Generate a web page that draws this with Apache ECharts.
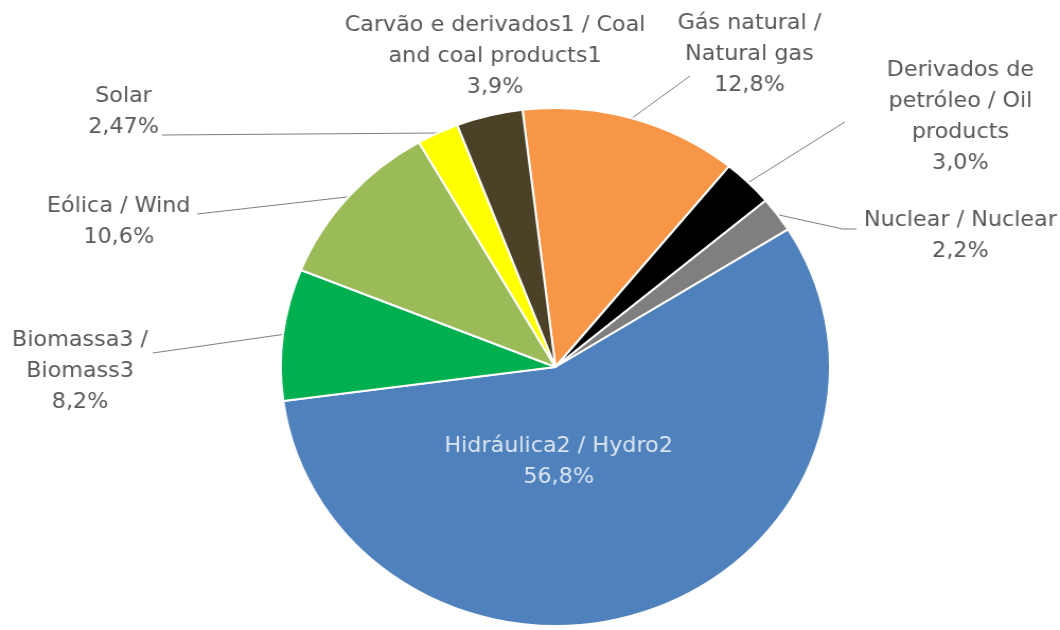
<!DOCTYPE html>
<html><head><meta charset="utf-8">
<script src="https://cdn.jsdelivr.net/npm/echarts@6/dist/echarts.min.js"></script>
<style>
html,body{margin:0;padding:0;background:#fff;overflow:hidden;width:1060px;height:630px}
#chart{width:1000px;height:630px;transform:scaleX(1.06);transform-origin:0 0}
</style></head><body><div id="chart"></div>
<script>
// Data (clockwise order as drawn, starting just left of 12 o'clock)
const categories = [
  'Gás natural /\nNatural gas',
  'Derivados de\npetróleo / Oil\nproducts',
  'Nuclear / Nuclear',
  'Hidráulica2 / Hydro2',
  'Biomassa3 /\nBiomass3',
  'Eólica / Wind',
  'Solar',
  'Carvão e derivados1 / Coal\nand coal products1'
];
const shares = [12.8, 3.0, 2.2, 56.8, 8.2, 10.6, 2.47, 3.9];

// Styles
const colors = ['#F79646', '#000000', '#7F7F7F', '#4F81BD', '#00B050', '#9BBB59', '#FFFF00', '#4A4127'];
const labelSpots = [
  {x: 707, y: 55, line: [[651, 76], [651, 76]]},
  {x: 906, y: 117, line: [[797, 122], [797, 122]]},
  {x: 906, y: 236, line: [[795, 229], [808, 229]]},
  {x: 527, y: 462, line: null},
  {x: 75.5, y: 372, line: [[144, 353], [144, 353]]},
  {x: 112, y: 222, line: [[186, 214], [186, 214]]},
  {x: 116.5, y: 112, line: [[153, 135], [153, 135]]},
  {x: 467, y: 57, line: null}
];

function pct(v) {
  return (Number.isInteger(v) ? v.toFixed(1) : String(v)).replace('.', ',') + '%';
}

const chart = echarts.init(document.getElementById('chart'), null, {renderer: 'canvas'});
chart.setOption({
  backgroundColor: '#ffffff',
  animation: false,
  series: [{
    type: 'pie',
    center: [524, 367],
    radius: 259,
    startAngle: 96.9,
    clockwise: true,
    avoidLabelOverlap: false,
    itemStyle: {borderColor: '#ffffff', borderWidth: 2},
    label: {
      show: true,
      position: 'outside',
      formatter: p => p.name + '\n' + pct(p.value),
      fontFamily: 'DejaVu Sans',
      fontSize: 21,
      lineHeight: 31,
      color: '#595959',
      align: 'center'
    },
    labelLine: {show: true, lineStyle: {color: '#808080', width: 1}},
    labelLayout: function (p) {
      const s = labelSpots[p.dataIndex];
      if (!s) return {};
      const out = {x: s.x, y: s.y, align: 'center', verticalAlign: 'middle'};
      if (s.line && p.labelLinePoints) {
        out.labelLinePoints = [p.labelLinePoints[0], s.line[0], s.line[1]];
      }
      return out;
    },
    data: categories.map((c, i) => {
      const d = {name: c, value: shares[i], itemStyle: {color: colors[i]}};
      if (i === 3) {
        d.label = {position: 'inside', color: '#DCE6F2'};
        d.labelLine = {show: false};
      }
      if (i === 7) {
        d.labelLine = {show: false};
      }
      return d;
    })
  }]
});
</script></body></html>
